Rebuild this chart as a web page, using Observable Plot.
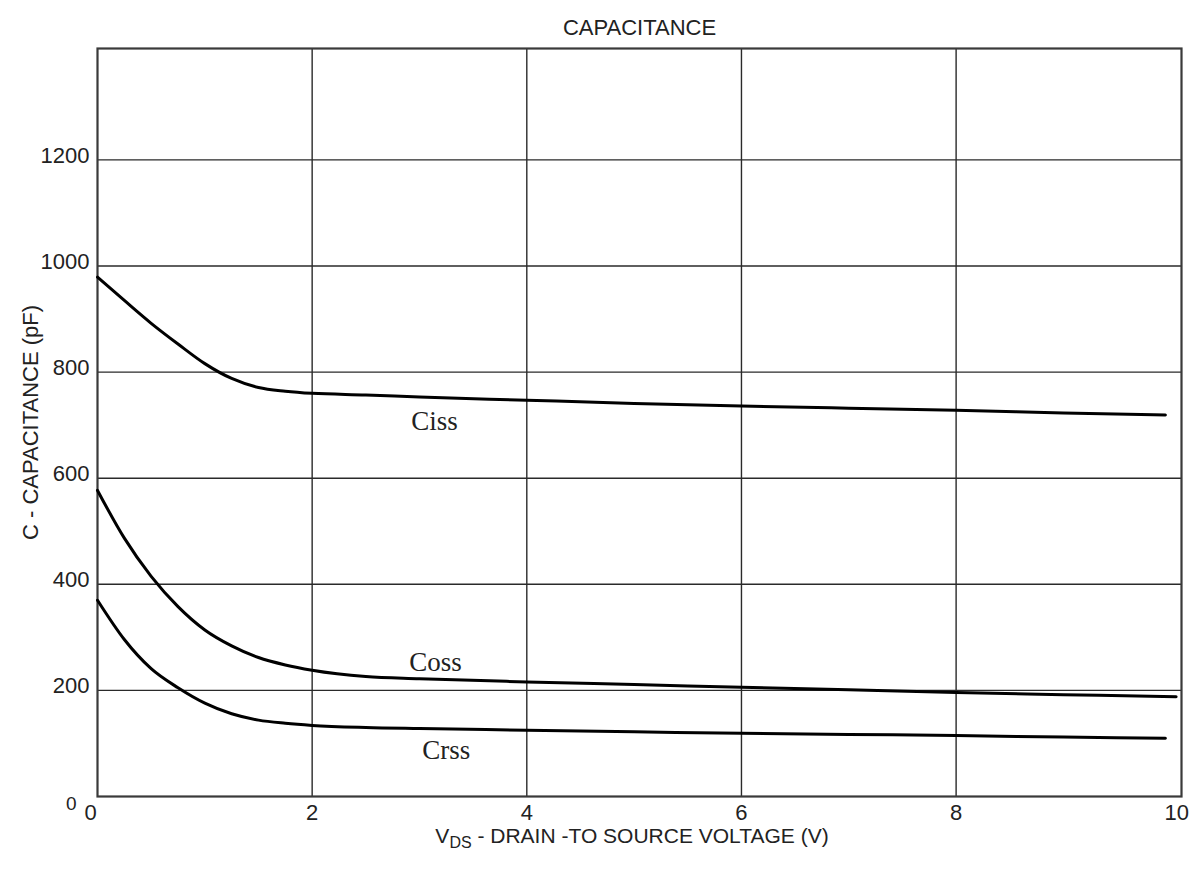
<!DOCTYPE html>
<html>
<head>
<meta charset="utf-8">
<script src="https://cdn.jsdelivr.net/npm/d3@7"></script>
<script src="https://cdn.jsdelivr.net/npm/@observablehq/plot@0.6"></script>
<style>
  html, body { margin: 0; padding: 0; background: #fff; }
  #chart { width: 1200px; height: 877px; }
</style>
</head>
<body>
<div id="chart"></div>
<script>
// ---- data ----
const cissV = [0, 0.25, 0.5, 0.75, 1.0, 1.25, 1.5, 1.75, 2.0, 2.5, 3, 4, 5, 6, 7, 8, 9, 9.95];
const cissC = [979, 935, 892, 853, 816, 788, 771, 764, 760, 757, 753, 747, 741, 736, 732, 728, 723, 719];

const cossV = [0, 0.25, 0.5, 0.75, 1.0, 1.25, 1.5, 1.75, 2.0, 2.5, 3, 4, 5, 6, 7, 8, 9, 10.05];
const cossC = [577, 487, 415, 358, 314, 284, 262, 248, 238, 226, 222, 216, 211, 206, 201, 196, 192, 188];

const crssV = [0, 0.25, 0.5, 0.75, 1.0, 1.25, 1.5, 1.75, 2.0, 2.5, 3, 4, 5, 6, 7, 8, 9, 9.95];
const crssC = [370, 296, 241, 205, 176, 156, 144, 138, 134, 130, 128, 125, 122, 119, 117, 115, 112, 110];

const seriesNames = ["Ciss", "Coss", "Crss"];
const labelV = [3.14, 3.15, 3.25];
const labelC = [690, 237, 70];

const xGrid = [2, 4, 6, 8];
const xTickLabels = [0, 2, 4, 6, 8, 10];
const yGrid = [200, 400, 600, 800, 1000, 1200];
const yTickLabels = [0, 200, 400, 600, 800, 1000, 1200];

const chartTitle = "CAPACITANCE";
const yTitle = "C - CAPACITANCE (pF)";

// ---- build rows ----
const rows = [];
[[cissV, cissC], [cossV, cossC], [crssV, crssC]].forEach(([vs, cs], k) => {
  vs.forEach((v, i) => rows.push({series: seriesNames[k], v, c: cs[i]}));
});
const labels = seriesNames.map((s, i) => ({s, v: labelV[i], c: labelC[i]}));

const sans = "'Liberation Sans', Arial, Helvetica, sans-serif";

const chart = Plot.plot({
  width: 1200,
  height: 877,
  marginLeft: 97,
  marginRight: 19,
  marginTop: 48,
  marginBottom: 81,
  style: {fontFamily: sans, fontSize: "22px", background: "white", color: "#222"},
  x: {domain: [0, 10.1], axis: null},
  y: {domain: [0, 1410], axis: null},
  marks: [
    Plot.ruleX(xGrid, {stroke: "#2a2a2a", strokeWidth: 1.4}),
    Plot.ruleY(yGrid, {stroke: "#2a2a2a", strokeWidth: 1.4}),
    Plot.frame({stroke: "#3a3a3a", strokeWidth: 2.2}),
    Plot.line(rows, {x: "v", y: "c", z: "series", curve: "monotone-x", stroke: "#000", strokeWidth: 3}),
    Plot.text(labels, {x: "v", y: "c", text: "s", lineAnchor: "bottom", textAnchor: "middle",
      fontFamily: "'Liberation Serif', 'Times New Roman', serif", fontSize: 27, fill: "#222"}),
    // y tick labels
    Plot.text(yTickLabels.filter(d => d !== 0), {x: 0, y: d => d, text: d => String(d), textAnchor: "end", dx: -8, dy: -4, fill: "#222"}),
    Plot.text(yTickLabels.filter(d => d === 0), {x: 0, y: d => d, text: d => String(d), textAnchor: "end", dx: -21, dy: 7, fontSize: 19, fill: "#222"}),
    // x tick labels
    Plot.text(xTickLabels.filter(d => d === 0), {x: d => d, y: 0, text: d => String(d), dy: 16, dx: -7, fill: "#222"}),
    Plot.text(xTickLabels.filter(d => d !== 0 && d !== 10), {x: d => d, y: 0, text: d => String(d), dy: 16, fill: "#222"}),
    Plot.text(xTickLabels.filter(d => d === 10), {x: d => d, y: 0, text: d => String(d), dy: 16, dx: 6, fill: "#222"}),
    // title and y-axis title
    Plot.text([chartTitle], {frameAnchor: "top", dy: -14, lineAnchor: "bottom", fontSize: 22, fill: "#222"}),
    Plot.text([yTitle], {frameAnchor: "left", rotate: -90, dx: -60, lineAnchor: "bottom", textAnchor: "middle", fontSize: 22, fill: "#222"})
  ]
});

document.getElementById("chart").appendChild(chart);

// x-axis title with subscript
const svg = d3.select(chart);
const xt = svg.append("text")
  .attr("x", 632).attr("y", 843)
  .attr("text-anchor", "middle")
  .attr("font-family", sans)
  .attr("font-size", 21)
  .attr("fill", "#222");
xt.append("tspan").text("V");
xt.append("tspan").attr("font-size", 16).attr("dy", 5).text("DS");
xt.append("tspan").attr("dy", -5).text(" - DRAIN -TO SOURCE VOLTAGE (V)");
</script>
</body>
</html>
